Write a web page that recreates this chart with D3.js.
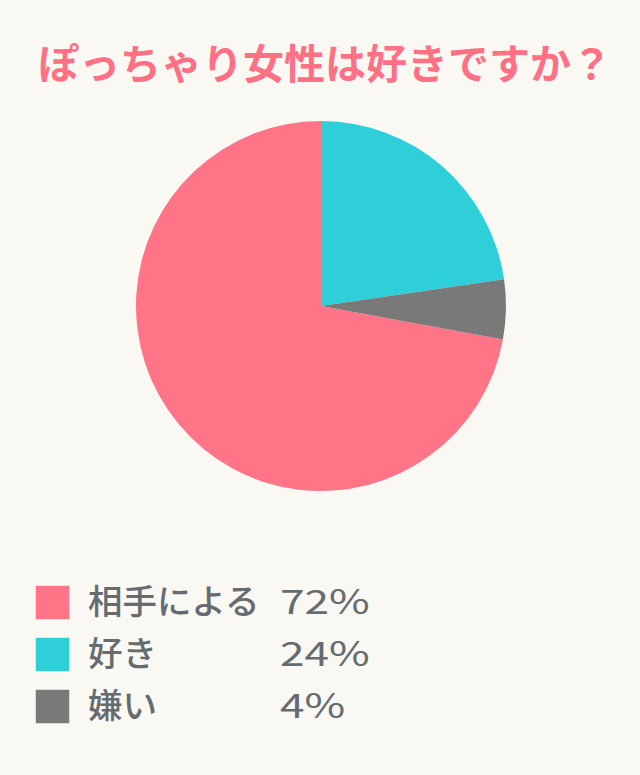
<!DOCTYPE html>
<html><head><meta charset="utf-8">
<script src="https://cdn.jsdelivr.net/npm/d3@7/dist/d3.min.js"></script>
<style>
html,body{margin:0;padding:0;background:#f9f8f3;}
svg{display:block;}
</style></head>
<body>
<svg id="c" width="640" height="775"></svg>
<script>
const title = "ぽっちゃり女性は好きですか？";
const categories = ["相手による", "好き", "嫌い"];
const legendPercent = ["72%", "24%", "4%"];
// slice shares as drawn in the picture
const sliceShares = [72.1, 22.7, 5.2];
const colors = ["#ff7587", "#2ecfd9", "#797979"];

const svg = d3.select("#c");
svg.append("rect").attr("width",640).attr("height",775).attr("fill","#f9f8f3");

svg.append("text")
  .attr("x", 325).attr("y", 79)
  .attr("text-anchor","middle")
  .attr("font-family","'Noto Sans CJK JP', sans-serif")
  .attr("font-weight",700)
  .attr("font-size",41)
  .attr("fill","#ff7084")
  .text(title);

const cx = 321, cy = 306, r = 185;
const total = d3.sum(sliceShares);
const start = 2*Math.PI*(1 - sliceShares[0]/total);
const pie = d3.pie().sort(null).value(d=>d).startAngle(start).endAngle(start + 2*Math.PI);
const arc = d3.arc().innerRadius(0).outerRadius(r);
const g = svg.append("g").attr("transform",`translate(${cx},${cy})`);
g.selectAll("path").data(pie(sliceShares)).join("path")
  .attr("d", arc).attr("fill", (d,i)=>colors[i]);

const rowY = d3.scalePoint().domain(d3.range(categories.length)).range([585, 689]);
const lg = svg.append("g");
const rows = lg.selectAll("g").data(categories).join("g")
  .attr("transform",(d,i)=>`translate(0,${rowY(i)})`);
rows.append("rect").attr("x",35.5).attr("y",0.5).attr("width",34).attr("height",34)
  .attr("fill",(d,i)=>colors[i]).attr("stroke","#ffffff").attr("stroke-opacity",0.5).attr("stroke-width",1);
rows.append("text").attr("x",88).attr("y",29)
  .attr("font-family","'Noto Sans CJK JP', sans-serif").attr("font-weight",500)
  .attr("font-size",34.5).attr("fill","#666b70").text(d=>d);
rows.append("text").attr("transform","translate(280,29) scale(1.3,1)")
  .attr("font-family","'Noto Sans CJK JP', sans-serif").attr("font-weight",400)
  .attr("font-size",34).attr("fill","#666b70").text((d,i)=>legendPercent[i]);
</script>
</body></html>
